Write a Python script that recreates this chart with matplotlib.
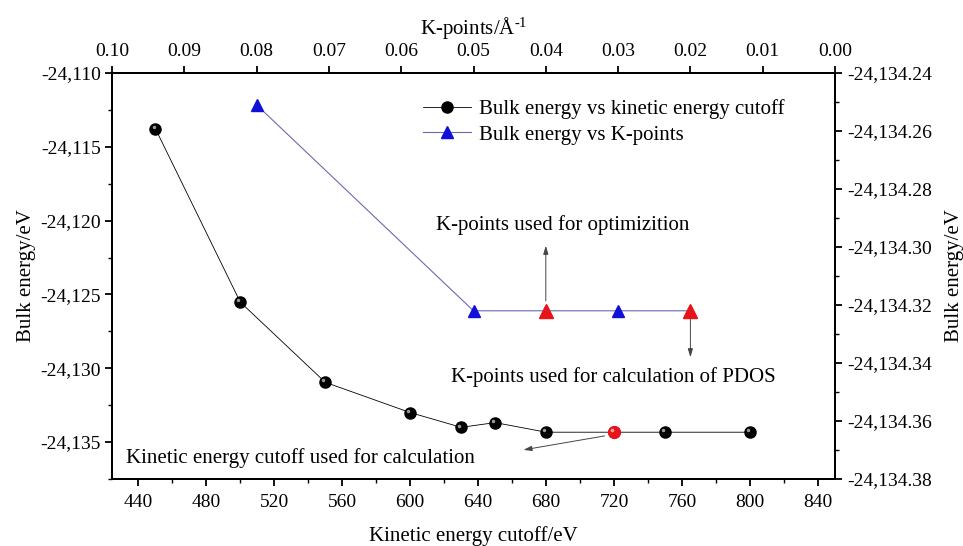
import matplotlib
matplotlib.use("Agg")
import matplotlib.pyplot as plt
import matplotlib.transforms as mtransforms
from matplotlib.ticker import MultipleLocator, FuncFormatter

# kinetic energy cutoff series (bottom / left axes)
cutoff = [450, 500, 550, 600, 630, 650, 680, 720, 750, 800]
energy_cutoff = [-24113.76, -24125.52, -24130.95, -24133.0, -24134.0,
                 -24133.68, -24134.33, -24134.33, -24134.33, -24134.33]
cutoff_used = 720

# k-points series (top / right axes)
kpoints = [0.08, 0.05, 0.04, 0.03, 0.02]
energy_kpoints = [-24134.251, -24134.322, -24134.322, -24134.322, -24134.322]
kpoints_used = [0.04, 0.02]

plt.rcParams["font.family"] = ["Liberation Serif", "DejaVu Serif"]
plt.rcParams["mathtext.fontset"] = "custom"
plt.rcParams["mathtext.rm"] = "Liberation Serif"
plt.rcParams["mathtext.it"] = "Liberation Serif:italic"

fig = plt.figure(figsize=(9.63, 5.46), dpi=100)
ax = fig.add_axes([112 / 963, 1 - 479 / 546, (835 - 112) / 963, (479 - 73) / 546])
ax2 = ax.twinx()
ax3 = ax2.twiny()

# bottom / left
line1, = ax.plot(cutoff, energy_cutoff, color="black", lw=0.6, marker="o",
                 ms=8, mfc="black", mec="black", zorder=3,
                 label="Bulk energy vs kinetic energy cutoff")
i_used = cutoff.index(cutoff_used)
ax.plot([cutoff[i_used]], [energy_cutoff[i_used]], "o", ms=8.5, color="#e8141a", zorder=4)
hl = mtransforms.offset_copy(ax.transData, fig=fig, x=-1.3, y=1.3, units="points")
ax.plot(cutoff, energy_cutoff, "o", ms=2.5, color="#9a9a9a", mew=0, transform=hl, zorder=5)
ax.plot([cutoff[i_used]], [energy_cutoff[i_used]], "o", ms=2.5, color="#ff9a9a", mew=0,
        transform=hl, zorder=5)

ax.set_xlim(424.5, 850)
ax.set_ylim(-24137.5, -24110)
ax.xaxis.set_major_locator(MultipleLocator(40))
ax.xaxis.set_minor_locator(MultipleLocator(20))
ax.yaxis.set_major_locator(MultipleLocator(5))
ax.yaxis.set_minor_locator(MultipleLocator(2.5))
ax.yaxis.set_major_formatter(FuncFormatter(lambda v, p: f"{v:,.0f}"))
ax.set_xlabel("Kinetic energy cutoff/eV", fontsize=15, labelpad=11)
ax.set_ylabel("Bulk energy/eV", fontsize=15, labelpad=3)

# top / right
line2, = ax3.plot(kpoints, energy_kpoints, color="#6a6ab4", lw=0.8, marker="^",
                  ms=8, mfc="#1010d8", mec="#1010d8", zorder=3,
                  label="Bulk energy vs K-points")
red_y = [energy_kpoints[kpoints.index(k)] for k in kpoints_used]
ax3.plot(kpoints_used, red_y, "^", ms=10, color="#e8141a", zorder=4)

ax3.set_xlim(0.10, 0.00)
ax2.set_ylim(-24134.38, -24134.24)
ax3.xaxis.set_major_locator(MultipleLocator(0.01))
ax3.xaxis.set_major_formatter(FuncFormatter(lambda v, p: f"{v:.2f}"))
ax2.yaxis.set_major_locator(MultipleLocator(0.02))
ax2.yaxis.set_minor_locator(MultipleLocator(0.01))
ax2.yaxis.set_major_formatter(FuncFormatter(lambda v, p: f"{v:,.2f}"))
ax3.set_xlabel("K-points/$\\mathrm{\\AA}^{\\text{-}1}$", fontsize=15, labelpad=7)
ax2.set_ylabel("Bulk energy/eV", fontsize=15, labelpad=9)

for a in (ax, ax2, ax3):
    for s in a.spines.values():
        s.set_linewidth(1.3)
    a.tick_params(which="major", direction="out", length=5, width=1.3, labelsize=14)
    a.tick_params(which="minor", direction="out", length=3, width=1.0)
ax.tick_params(axis="x", which="major", pad=6)
ax.tick_params(axis="y", which="major", pad=3)
ax2.tick_params(axis="y", which="major", pad=4)
ax3.tick_params(axis="x", which="major", pad=4)

# annotations
arrow_kw = dict(arrowstyle="-|>,head_length=0.5,head_width=0.15", color="#444444", lw=0.7)
ax3.annotate("", xy=(0.04, -24134.2986), xytext=(0.04, -24134.3195),
             arrowprops=arrow_kw, zorder=2)
ax3.text(0.0552, -24134.2925, "K-points used for optimizition", fontsize=15,
         ha="left", va="center")
ax3.annotate("", xy=(0.02, -24134.339), xytext=(0.02, -24134.324),
             arrowprops=arrow_kw, zorder=2)
ax3.text(0.0531, -24134.345, "K-points used for calculation of PDOS", fontsize=15,
         ha="left", va="center")
ax.annotate("", xy=(665, -24135.56), xytext=(716, -24134.55),
            arrowprops=arrow_kw, zorder=2)
ax.text(432.7, -24136.1, "Kinetic energy cutoff used for calculation", fontsize=15,
        ha="left", va="center")

fig.legend(handles=[line1, line2], loc="upper left", bbox_to_anchor=(423 / 963, 1 - 99 / 546),
           frameon=False, fontsize=15, borderpad=0, handlelength=2.3, handletextpad=0.4,
           labelspacing=0.3, borderaxespad=0)

fig.savefig("out.png", dpi=100)
